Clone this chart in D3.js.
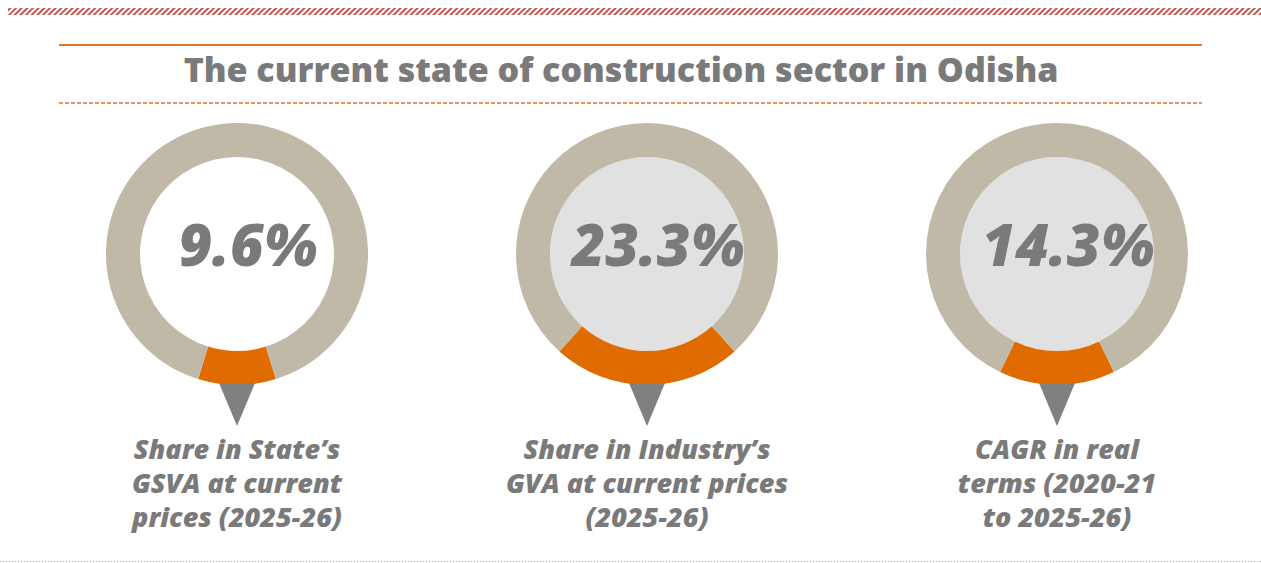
<!DOCTYPE html>
<html>
<head>
<meta charset="utf-8">
<script src="https://cdn.jsdelivr.net/npm/d3@7"></script>
<style>
  body { margin: 0; background: #fff; }
  svg { display: block; }
  text { font-family: "Open Sans", "DejaVu Sans", sans-serif; }
</style>
</head>
<body>
<div id="chart"></div>
<script>
// Chart values
const title = "The current state of construction sector in Odisha";
const indicators = ["gsva", "industry", "cagr"];
const values = [9.6, 23.3, 14.3];
const valueLabels = ["9.6%", "23.3%", "14.3%"];
const captions = [
    ["Share in State\u2019s", "GSVA at current", "prices (2025-26)"],
    ["Share in Industry\u2019s", "GVA at current prices", "(2025-26)"],
    ["CAGR in real", "terms (2020-21", "to 2025-26)"]
];
const holeFills = ["#ffffff", "#e1e1e1", "#e1e1e1"];

const width = 1261;
const height = 563;
const outerR = 131;
const innerR = 97;
const cy = 254;

const colors = { part: "#e06b00", rest: "#c0b9a8", text: "#7a7a7a", pin: "#808080", line: "#e2762e" };

const svg = d3.select("#chart")
    .append("svg")
    .attr("width", width)
    .attr("height", height);

// Top hatched band
const defs = svg.append("defs");
const hatch = defs.append("pattern")
    .attr("id", "hatch")
    .attr("patternUnits", "userSpaceOnUse")
    .attr("width", 4)
    .attr("height", 4)
    .attr("patternTransform", "rotate(45)");
hatch.append("rect").attr("width", 2).attr("height", 4).attr("fill", "#c4574f");

svg.append("rect")
    .attr("x", 8).attr("y", 8)
    .attr("width", width - 8).attr("height", 7)
    .attr("fill", "url(#hatch)");

// Title rules
svg.append("line")
    .attr("x1", 59).attr("x2", 1202)
    .attr("y1", 45).attr("y2", 45)
    .attr("stroke", colors.line).attr("stroke-width", 2);

svg.append("line")
    .attr("x1", 59).attr("x2", 1202)
    .attr("y1", 103).attr("y2", 103)
    .attr("stroke", colors.line).attr("stroke-width", 1.5)
    .attr("stroke-dasharray", "4,2");

svg.append("text")
    .attr("x", 621).attr("y", 82)
    .attr("text-anchor", "middle")
    .attr("font-size", "34px")
    .attr("font-weight", 800)
    .attr("fill", colors.text)
    .text(title);

// Bottom dotted rule
svg.append("line")
    .attr("x1", 0).attr("x2", width)
    .attr("y1", 561.5).attr("y2", 561.5)
    .attr("stroke", "#d98c96").attr("stroke-width", 1)
    .attr("stroke-dasharray", "1,2");

// Donuts
const xScale = d3.scalePoint()
    .domain(indicators)
    .range([237, 1057]);

const arc = d3.arc().innerRadius(innerR).outerRadius(outerR);

const groups = svg.selectAll(".donut")
    .data(indicators)
    .join("g")
    .attr("class", "donut")
    .attr("transform", (d) => `translate(${xScale(d)},${cy})`);

groups.append("circle")
    .attr("r", innerR)
    .attr("fill", (d, i) => holeFills[i]);

groups.each(function (d, i) {
    const v = values[i];
    const half = (v / 100) * Math.PI; // orange slice centred on the bottom
    const pie = d3.pie()
        .sort(null)
        .startAngle(Math.PI - half)
        .endAngle(Math.PI - half + 2 * Math.PI);
    d3.select(this).selectAll("path")
        .data(pie([v, 100 - v]))
        .join("path")
        .attr("d", arc)
        .attr("fill", (s, j) => (j === 0 ? colors.part : colors.rest));
});

// Pin under each ring
groups.append("path")
    .attr("d", `M-18,${outerR - 2} L18,${outerR - 2} L0,${outerR + 41} Z`)
    .attr("fill", colors.pin);

// Value in the centre
groups.append("text")
    .attr("x", 11)
    .attr("y", 12)
    .attr("text-anchor", "middle")
    .attr("font-size", "58px")
    .attr("font-weight", 800)
    .attr("font-style", "italic")
    .attr("fill", colors.text)
    .text((d, i) => valueLabels[i]);

// Caption
groups.append("text")
    .attr("text-anchor", "middle")
    .attr("font-size", "27px")
    .attr("font-weight", 800)
    .attr("font-style", "italic")
    .attr("fill", colors.text)
    .selectAll("tspan")
    .data((d, i) => captions[i])
    .join("tspan")
    .attr("x", 0)
    .attr("y", (s, j) => 205 + j * 34)
    .text((s) => s);
</script>
</body>
</html>
